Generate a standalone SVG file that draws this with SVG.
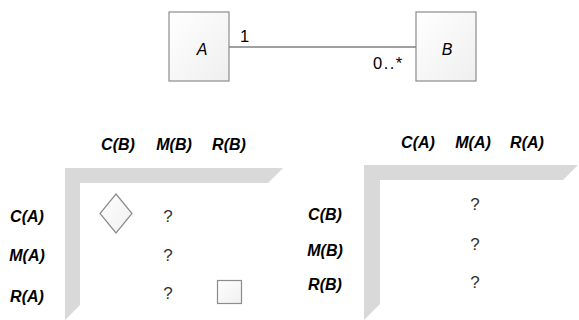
<svg xmlns="http://www.w3.org/2000/svg" width="579" height="320" viewBox="0 0 579 320">
  <defs>
    <linearGradient id="boxFill" x1="0" y1="0" x2="1" y2="1">
      <stop offset="0" stop-color="#ffffff"/>
      <stop offset="1" stop-color="#efefef"/>
    </linearGradient>
  </defs>
  <style>
    .cls { fill: url(#boxFill); stroke: #8c8c8c; stroke-width: 1.2; }
    .lbl { font-family: "Liberation Sans", Arial, sans-serif; font-size: 16px; font-style: italic; fill: #000; text-anchor: middle; }
    .mult { font-family: "Liberation Sans", Arial, sans-serif; font-size: 16.5px; fill: #000; }
    .hdr { font-family: "Liberation Sans", Arial, sans-serif; font-size: 16px; font-weight: bold; font-style: italic; fill: #000; text-anchor: middle; }
    .q { font-family: "Liberation Sans", Arial, sans-serif; font-size: 17px; fill: #333; text-anchor: middle; }
    .frame { fill: #d9d9d9; }
    .assoc { stroke: #808080; stroke-width: 1.5; fill: none; }
  </style>

  <!-- class nodes -->
  <g id="classA">
    <rect class="cls" x="169" y="12" width="60" height="69"/>
    <text class="lbl" x="202" y="55">A</text>
  </g>
  <g id="classB">
    <rect class="cls" x="416" y="12" width="60" height="69"/>
    <text class="lbl" x="447" y="55">B</text>
  </g>

  <!-- association -->
  <g id="connectors">
    <line class="assoc" x1="229" y1="47" x2="416" y2="47"/>
    <text class="mult" x="240" y="42">1</text>
    <text class="mult" x="373" y="69" letter-spacing="1.5">0..*</text>
  </g>

  <!-- left matrix: A rows, B columns -->
  <g id="matrixAB">
    <polygon class="frame" points="65,168 283,168 268,183 80,183 80,305 65,320"/>
    <text class="hdr" x="118" y="150">C(B)</text>
    <text class="hdr" x="174" y="150">M(B)</text>
    <text class="hdr" x="229" y="150">R(B)</text>
    <text class="hdr" x="27" y="222">C(A)</text>
    <text class="hdr" x="27" y="261">M(A)</text>
    <text class="hdr" x="27" y="302">R(A)</text>
    <polygon class="cls" points="116,194 132,213.5 116,233 100,213.5"/>
    <text class="q" x="168" y="222">?</text>
    <text class="q" x="168" y="261">?</text>
    <text class="q" x="168" y="299">?</text>
    <rect class="cls" x="217.5" y="280.5" width="24" height="23"/>
  </g>

  <!-- right matrix: B rows, A columns -->
  <g id="matrixBA">
    <polygon class="frame" points="364,165 578,165 563,180 380,180 380,304 364,320"/>
    <text class="hdr" x="418" y="148">C(A)</text>
    <text class="hdr" x="473" y="148">M(A)</text>
    <text class="hdr" x="527" y="148">R(A)</text>
    <text class="hdr" x="325" y="220">C(B)</text>
    <text class="hdr" x="325" y="256">M(B)</text>
    <text class="hdr" x="325" y="290">R(B)</text>
    <text class="q" x="475" y="210">?</text>
    <text class="q" x="475" y="250">?</text>
    <text class="q" x="475" y="288">?</text>
  </g>
</svg>
